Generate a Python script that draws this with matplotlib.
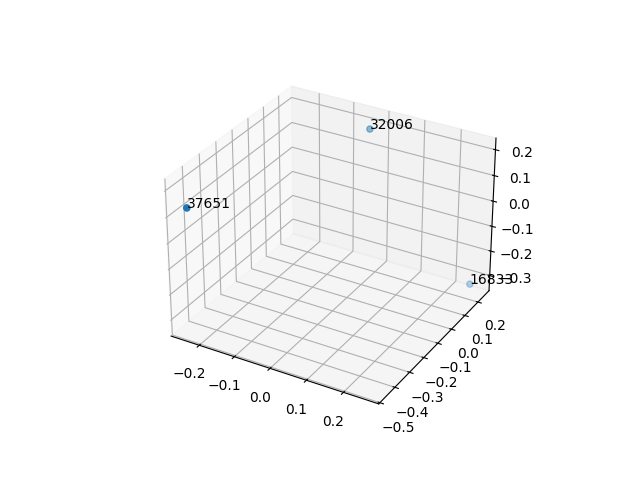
import matplotlib
matplotlib.use("Agg")
import matplotlib.pyplot as plt

labels = ["37651", "32006", "16833"]
xs = [-0.245, -0.019, 0.257]
ys = [-0.457, 0.2, 0.236]
zs = [0.128, 0.206, -0.324]

fig = plt.figure(figsize=(6.4, 4.8), dpi=100)
ax = fig.add_subplot(projection="3d")
ax.scatter(xs, ys, zs)
for x, y, z, t in zip(xs, ys, zs, labels):
    ax.text(x, y, z, t)
fig.savefig("out.png", dpi=100)
